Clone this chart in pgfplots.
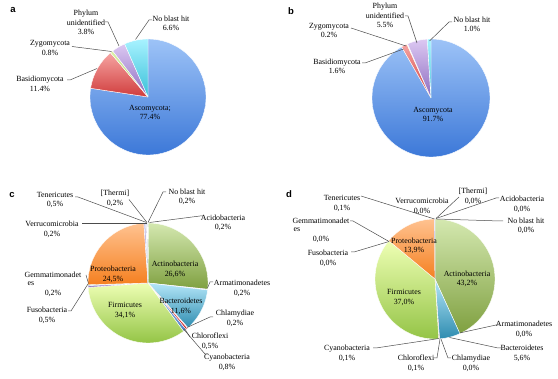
\documentclass[border=0pt]{standalone}
\usepackage{pgfplots}
\pgfplotsset{compat=1.18}
\usepackage{fontspec}
\setmainfont{Liberation Serif}
\setsansfont{Liberation Sans}

% colours (L = light top, D = dark bottom)
\definecolor{ascoL}{HTML}{9DC3F7}\definecolor{ascoD}{HTML}{3C78D8}
\definecolor{basiL}{HTML}{F6A4A2}\definecolor{basiD}{HTML}{D03C3C}
\definecolor{zygoL}{HTML}{DDF2A8}\definecolor{zygoD}{HTML}{A8D060}
\definecolor{phylL}{HTML}{DCC8F2}\definecolor{phylD}{HTML}{8C6CC0}
\definecolor{nobaL}{HTML}{A8F2FF}\definecolor{nobaD}{HTML}{38C0D8}
\definecolor{acidL}{HTML}{C8D0EC}\definecolor{acidD}{HTML}{8A98C8}
\definecolor{actiL}{HTML}{D4E8B0}\definecolor{actiD}{HTML}{7FA040}
\definecolor{armaL}{HTML}{C8A8DC}\definecolor{armaD}{HTML}{8060A8}
\definecolor{bactL}{HTML}{B4E6F8}\definecolor{bactD}{HTML}{2E8CB0}
\definecolor{chlaL}{HTML}{F0B0B0}\definecolor{chlaD}{HTML}{D06060}
\definecolor{chloL}{HTML}{F06060}\definecolor{chloD}{HTML}{D02020}
\definecolor{cyanL}{HTML}{B0C8F0}\definecolor{cyanD}{HTML}{5080C8}
\definecolor{firmL}{HTML}{EEFFB4}\definecolor{firmD}{HTML}{94C446}
\definecolor{fusoL}{HTML}{C4ACE2}\definecolor{fusoD}{HTML}{8068B0}
\definecolor{gemmL}{HTML}{A8E8F0}\definecolor{gemmD}{HTML}{40B0C8}
\definecolor{protL}{HTML}{FFC290}\definecolor{protD}{HTML}{F58020}
\definecolor{teneL}{HTML}{CCC4EA}\definecolor{teneD}{HTML}{9888C8}
\definecolor{therL}{HTML}{C4D2F0}\definecolor{therD}{HTML}{8098D0}
\definecolor{verrL}{HTML}{D4D4E4}\definecolor{verrD}{HTML}{A0A0B8}
\definecolor{nbcL}{HTML}{CCDAEA}\definecolor{nbcD}{HTML}{90A8C0}

\newcommand{\piestart}[4]{\gdef\pcx{#1}\gdef\pcy{#2}\gdef\pr{#3}\gdef\ptot{#4}\gdef\pcum{0}}
\newcommand{\slice}[2]{%
  \pgfmathsetmacro\sa{\pcum}%
  \pgfmathsetmacro\sb{\pcum+#1}%
  \xdef\pcum{\sb}%
  \ifdim #1pt>0pt
    \pgfmathsetmacro\stp{\ptot/360}%
    \pgfmathsetmacro\san{\sa+\stp}%
    \pgfmathsetmacro\lim{2*\stp}%
    \ifdim #1pt>\lim pt
      \edef\smp{-1,\sa,\san,...,\sb,\sb,-1}%
    \else
      \edef\smp{-1,\sa,\sb,-1}%
    \fi
    \edef\tmp{\noexpand\addplot[draw=white, line width=0.4pt, top color=#2L, bottom color=#2D, samples at={\smp}, variable=\noexpand\t, no markers]
      ({(\noexpand\t<0)?\pcx:\pcx+\pr*cos(90-360*\noexpand\t/\ptot)},{(\noexpand\t<0)?\pcy:\pcy-\pr*sin(90-360*\noexpand\t/\ptot)});}%
    \tmp
  \fi}
\newcommand{\lab}[3]{\node[lab] at (axis cs:#1,#2) {#3};}

\begin{document}
\begin{tikzpicture}[
  lab/.style={font=\fontsize{7.9}{9.4}\selectfont, align=center, inner sep=0pt, text=black},
  pl/.style={font=\sffamily\bfseries\fontsize{9.5}{10}\selectfont, inner sep=0pt},
]
\begin{axis}[scale only axis, width=558pt, height=379pt,
  xmin=0, xmax=558, ymin=0, ymax=379, y dir=reverse,
  hide axis, clip=false,
  leader/.style={draw=black!70, line width=0.5pt, no markers}]
\addplot[draw=none, no markers] coordinates {(0,0) (558,379)};

% ---------- a ----------
\piestart{148}{97}{58}{100}
\slice{77.4}{asco}
\slice{11.4}{basi}
\slice{0.8}{zygo}
\slice{3.8}{phyl}
\slice{6.6}{noba}
\addplot[leader] coordinates {(105,22) (108,22) (119,46)};
\addplot[leader] coordinates {(152,20) (149,20) (135.5,39.5)};
\addplot[leader] coordinates {(72,46.5) (111.5,51.5)};
\addplot[leader] coordinates {(67,80) (70,80) (97,68.5)};
\lab{86}{22.5}{Phylum\\unidentified\\3.8\%}
\lab{171}{23.5}{No blast hit\\6.6\%}
\lab{50}{48}{Zygomycota\\0.8\%}
\lab{40}{84}{Basidiomycota\\11.4\%}
\lab{150}{112.5}{Ascomycota;\\77.4\%}
\node[pl] at (axis cs:13,10) {a};

% ---------- b ----------
\piestart{431}{98}{59}{100}
\slice{91.7}{asco}
\slice{1.6}{basi}
\slice{0.2}{zygo}
\slice{5.5}{phyl}
\slice{1.0}{noba}
\addplot[leader] coordinates {(405,16) (408,16) (417,43)};
\addplot[leader] coordinates {(452,22) (449,22) (429.5,41)};
\addplot[leader] coordinates {(351,28) (406,46)};
\addplot[leader] coordinates {(362,63) (365,63) (403.5,49)};
\lab{385}{15.5}{Phylum\\unidentified\\5.5\%}
\lab{472}{24.5}{No blast hit\\1.0\%}
\lab{329}{30.5}{Zygomycota\\0.2\%}
\lab{337}{66.5}{Basidiomycota\\1.6\%}
\lab{433}{114.5}{Ascomycota\\91.7\%}
\node[pl] at (axis cs:291,11) {b};

% ---------- c ----------
\piestart{148}{283}{60}{100.5}
\slice{0.2}{acid}
\slice{26.6}{acti}
\slice{0.2}{arma}
\slice{11.6}{bact}
\slice{0.2}{chla}
\slice{0.5}{chlo}
\slice{0.8}{cyan}
\slice{34.1}{firm}
\slice{0.5}{fuso}
\slice{0.2}{gemm}
\slice{24.5}{prot}
\slice{0.5}{tene}
\slice{0.2}{ther}
\slice{0.2}{verr}
\slice{0.2}{nbc}
\addplot[leader] coordinates {(75,197) (78,197) (146.5,222.5)};
\addplot[leader] coordinates {(129,199.5) (147,222.5)};
\addplot[leader] coordinates {(166,192) (163,192) (148,222.5)};
\addplot[leader] coordinates {(203,216) (200,216) (149.5,222.5)};
\addplot[leader] coordinates {(82,223) (146.5,223)};
\addplot[leader] coordinates {(86,275) (88.5,283.5)};
\addplot[leader] coordinates {(68,311) (71,311) (88,284)};
\addplot[leader] coordinates {(213,282) (210,282) (207.5,288)};
\addplot[leader] coordinates {(213,317) (210,317) (187,327.5)};
\addplot[leader] coordinates {(190,337) (184.5,328.5)};
\addplot[leader] coordinates {(208,354) (205,354) (183.5,329)};
\lab{55}{200}{Tenericutes\\0,5\%}
\lab{115}{198.5}{[Thermi]\\0,2\%}
\lab{187}{197}{No blast hit\\0,2\%}
\lab{223}{223}{Acidobacteria\\0,2\%}
\lab{52}{229.5}{Verrucomicrobia\\0,2\%}
\lab{53}{275}{Gemmatimonadet}
\lab{31}{284}{es}
\lab{53}{293}{0,2\%}
\lab{47}{315.5}{Fusobacteria\\0,5\%}
\lab{113}{274.5}{Proteobacteria\\24,5\%}
\lab{175}{269.5}{Actinobacteria\\26,6\%}
\lab{242}{288.5}{Armatimonadetes\\0,2\%}
\lab{181}{306.5}{Bacteroidetes\\11,6\%}
\lab{125}{310.5}{Firmicutes\\34,1\%}
\lab{235}{318.5}{Chlamydiae\\0,2\%}
\lab{210}{341.5}{Chloroflexi\\0,5\%}
\lab{227}{362.5}{Cyanobacteria\\0,8\%}
\node[pl] at (axis cs:12,195) {c};

% ---------- d ----------
\piestart{435}{279}{60}{100}
\slice{0.0}{acid}
\slice{43.2}{acti}
\slice{0.0}{arma}
\slice{5.6}{bact}
\slice{0.0}{chla}
\slice{0.1}{chlo}
\slice{0.1}{cyan}
\slice{37.0}{firm}
\slice{0.0}{fuso}
\slice{0.0}{gemm}
\slice{13.9}{prot}
\slice{0.1}{tene}
\slice{0.0}{ther}
\slice{0.0}{verr}
\slice{0.0}{nbc}
\addplot[leader] coordinates {(361,196) (434.5,219)};
\addplot[leader] coordinates {(459,197) (436,218.5)};
\addplot[leader] coordinates {(499,198) (496,198) (436,218.5)};
\addplot[leader] coordinates {(503,221) (500,221) (436.5,219)};
\addplot[leader] coordinates {(350,221) (353,221) (389,241.5)};
\addplot[leader] coordinates {(351,252) (354,252) (389,241.5)};
\addplot[leader] coordinates {(499,325) (496,325) (459.5,333)};
\addplot[leader] coordinates {(501,348) (498,348) (449.5,337.5)};
\addplot[leader] coordinates {(373,348) (376,348) (439,338.5)};
\addplot[leader] coordinates {(434,358) (437,358) (440,339)};
\addplot[leader] coordinates {(451,358) (448,358) (441,339)};
\lab{342}{203.5}{Tenericutes\\0,1\%}
\lab{422}{206.5}{Verrucomicrobia\\0,0\%}
\lab{473}{196.5}{[Thermi]\\0,0\%}
\lab{522}{204.5}{Acidobacteria\\0,0\%}
\lab{526}{226}{No blast hit\\0,0\%}
\lab{321}{221}{Gemmatimonadet}
\lab{297}{230}{es}
\lab{321}{239}{0,0\%}
\lab{328}{258.5}{Fusobacteria\\0,0\%}
\lab{414}{246}{Proteobacteria\\13,9\%}
\lab{467}{279}{Actinobacteria\\43,2\%}
\lab{404}{297.5}{Firmicutes\\37,0\%}
\lab{524}{329.5}{Armatimonadetes\\0,0\%}
\lab{522}{353.5}{Bacteroidetes\\5,6\%}
\lab{347}{353.5}{Cyanobacteria\\0,1\%}
\lab{416}{363.5}{Chloroflexi\\0,1\%}
\lab{471}{363.5}{Chlamydiae\\0,0\%}
\node[pl] at (axis cs:289,194) {d};
\end{axis}
\end{tikzpicture}
\end{document}
